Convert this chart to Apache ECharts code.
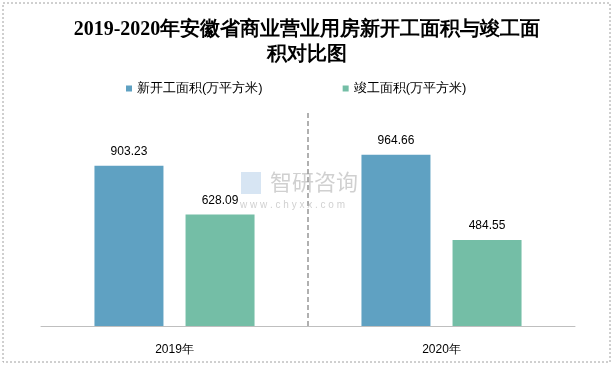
<!DOCTYPE html>
<html><head><meta charset="utf-8">
<script src="https://cdn.jsdelivr.net/npm/echarts@6/dist/echarts.min.js"></script>
<style>html,body{margin:0;padding:0;background:#fff}#c{width:614px;height:366px}</style>
</head><body><div id="c"></div>
<script>
var categories = ['2019年', '2020年'];
var newStarts = [903.23, 964.66];
var completed = [628.09, 484.55];
var seriesNames = ['新开工面积(万平方米)', '竣工面积(万平方米)'];

var chart = echarts.init(document.getElementById('c'));
chart.setOption({
  animation: false,
  backgroundColor: '#fff',
  title: {
    text: '2019-2020年安徽省商业营业用房新开工面积与竣工面\n积对比图',
    left: 'center', top: 12,
    textStyle: { fontFamily: 'serif', fontWeight: 'bold', fontSize: 20, lineHeight: 25, color: '#000' }
  },
  legend: {
    top: 77, left: 121, itemWidth: 6, itemHeight: 6, itemGap: 80, icon: 'rect',
    textStyle: { fontSize: 13, color: '#000', fontFamily: 'sans-serif' },
    data: seriesNames
  },
  grid: { left: 41, right: 39, top: 113, bottom: 40 },
  xAxis: {
    type: 'category', data: categories,
    axisLine: { lineStyle: { color: '#bfbfbf', width: 1 } },
    axisTick: { show: false },
    axisLabel: { color: '#000', fontSize: 12, margin: 18 },
    splitLine: { show: true,
      lineStyle: { color: ['rgba(0,0,0,0)', '#b0b0b0', 'rgba(0,0,0,0)'], type: [5, 3], width: 2 } }
  },
  yAxis: { type: 'value', min: 0, max: 1200, show: false, splitLine: { show: false } },
  series: [
    { name: seriesNames[0], type: 'bar', data: newStarts, barWidth: 69, barGap: '32%',
      itemStyle: { color: '#5FA1C2' },
      label: { show: true, position: 'top', distance: 8, color: '#000', fontSize: 12 } },
    { name: seriesNames[1], type: 'bar', data: completed, barWidth: 69,
      itemStyle: { color: '#74BEA6' },
      label: { show: true, position: 'top', distance: 8, color: '#000', fontSize: 12 } }
  ],
  graphic: [
    { type: 'rect', shape: { x: 3, y: 3, width: 607, height: 359 }, silent: true,
      style: { fill: 'none', stroke: '#a0a0a0', lineWidth: 1, lineDash: [2, 2] } },
    { type: 'text', left: 270, top: 171, silent: true, z: 10,
      style: { text: '智研咨询', fontSize: 22, fill: 'rgba(150,150,150,0.45)', fontFamily: 'Noto Sans CJK SC' } },
    { type: 'text', left: 240, top: 200, silent: true, z: 10,
      style: { text: 'w w w . c h y x x . c o m', fontSize: 10, fill: 'rgba(150,150,150,0.45)' } },
    { type: 'rect', shape: { x: 241, y: 172, width: 20, height: 22 }, silent: true, z: 10,
      style: { fill: 'rgba(140,180,220,0.35)' } }
  ]
});
</script></body></html>
